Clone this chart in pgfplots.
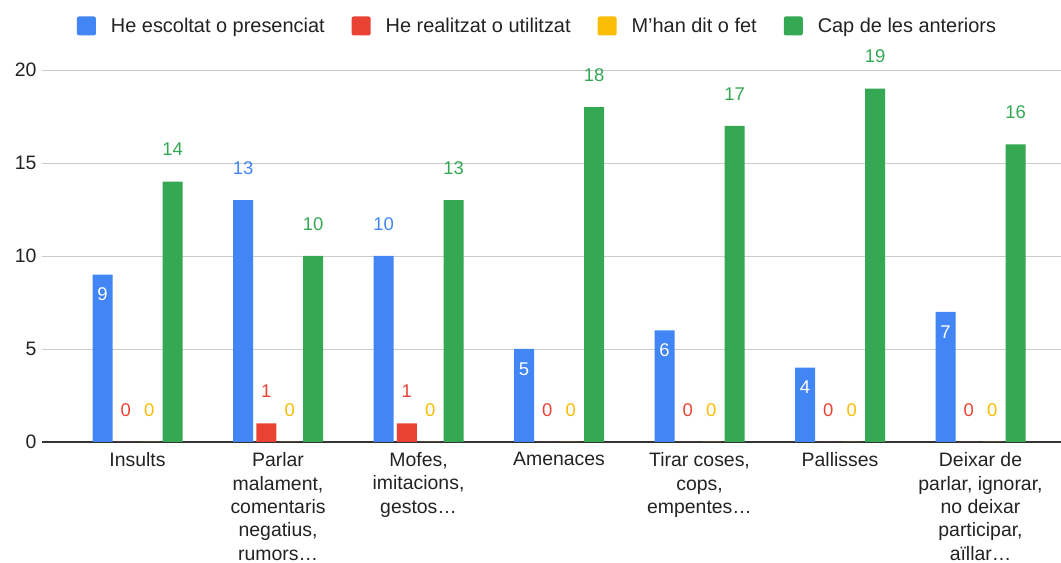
\documentclass[border=0pt]{standalone}
\usepackage{pgfplots}
\pgfplotsset{compat=1.18}
\usepackage{pgfplotstable}
\usepackage{fontspec}
\setmainfont{Liberation Sans}
\definecolor{cblue}{HTML}{4285F4}
\definecolor{cred}{HTML}{EA4335}
\definecolor{cyellow}{HTML}{FBBC04}
\definecolor{cgreen}{HTML}{34A853}
\definecolor{ctext}{HTML}{222222}

\pgfplotstableread{
x y s
0 9 -20
1 13 32
2 10 32
3 5 -20
4 6 -20
5 4 -20
6 7 -20
}\blue
\pgfplotstableread{
x y
0 0
1 1
2 1
3 0
4 0
5 0
6 0
}\red
\pgfplotstableread{
x y
0 0
1 0
2 0
3 0
4 0
5 0
6 0
}\yellow
\pgfplotstableread{
x y
0 14
1 10
2 13
3 18
4 17
5 19
6 16
}\green

\begin{document}
\begin{tikzpicture}[x=1bp,y=1bp]
\useasboundingbox (-42,-121) rectangle (1019,442);
\begin{axis}[
  at={(0,0)}, anchor=south west,
  scale only axis, width=1019bp, height=372bp,
  ymin=0, ymax=20, ytick={0,5,10,15,20},
  xmin=-0.68, xmax=6.573,
  xtick={0,...,6},
  xticklabels={Insults,
    {Parlar\\malament,\\comentaris\\negatius,\\rumors…},
    {Mofes,\\imitacions,\\gestos…},
    Amenaces,
    {Tirar coses,\\cops,\\empentes…},
    Pallisses,
    {Deixar de\\parlar, ignorar,\\no deixar\\participar,\\aïllar…}},
  ybar=3.33bp, bar width=20bp,
  axis line style={draw=none},
  major tick length=0pt,
  ymajorgrids, grid style={draw=black!20, line width=0.8pt},
  extra y ticks={0}, extra y tick labels={},
  extra y tick style={grid style={draw=black!80, line width=1.2pt}},
  tick label style={font=\fontsize{19.5}{23.5}\selectfont, text=ctext},
  xticklabel style={align=center, anchor=north, yshift=-7bp},
  yticklabel style={xshift=-2bp},
  /pgf/number format/assume math mode=true,
  legend columns=4,
  legend style={at={(0.5,1)}, anchor=center, yshift=44bp, xshift=-14bp,
    draw=none, fill=none, font=\fontsize{20}{22}\selectfont, text=ctext,
    /tikz/every odd column/.append style={column sep=13bp},
    /tikz/every even column/.append style={column sep=25bp}},
  legend image code/.code={\fill[#1, rounded corners=2bp] (0bp,-9.5bp) rectangle (19bp,9.5bp);},
  nodes near coords,
  every node near coord/.append style={font=\fontsize{18.5}{20}\selectfont, anchor=center},
  clip=false,
]
\addplot[fill=cblue, draw=none,
  visualization depends on={\thisrow{s} \as \ys},
  nodes near coords={\ifdim\ys pt<0pt\color{white}\else\color{cblue}\fi\pgfmathprintnumber{\pgfplotspointmeta}},
  every node near coord/.append style={yshift=\ys bp}] table[x=x,y=y] {\blue};
\addplot[fill=cred, draw=none, every node near coord/.append style={yshift=32bp, text=cred}] table[x=x,y=y] {\red};
\addplot[fill=cyellow, draw=none, every node near coord/.append style={yshift=32bp, text=cyellow}] table[x=x,y=y] {\yellow};
\addplot[fill=cgreen, draw=none, every node near coord/.append style={yshift=32bp, text=cgreen}] table[x=x,y=y] {\green};
\legend{He escoltat o presenciat, He realitzat o utilitzat, M’han dit o fet, Cap de les anteriors}
\end{axis}
\end{tikzpicture}
\end{document}
